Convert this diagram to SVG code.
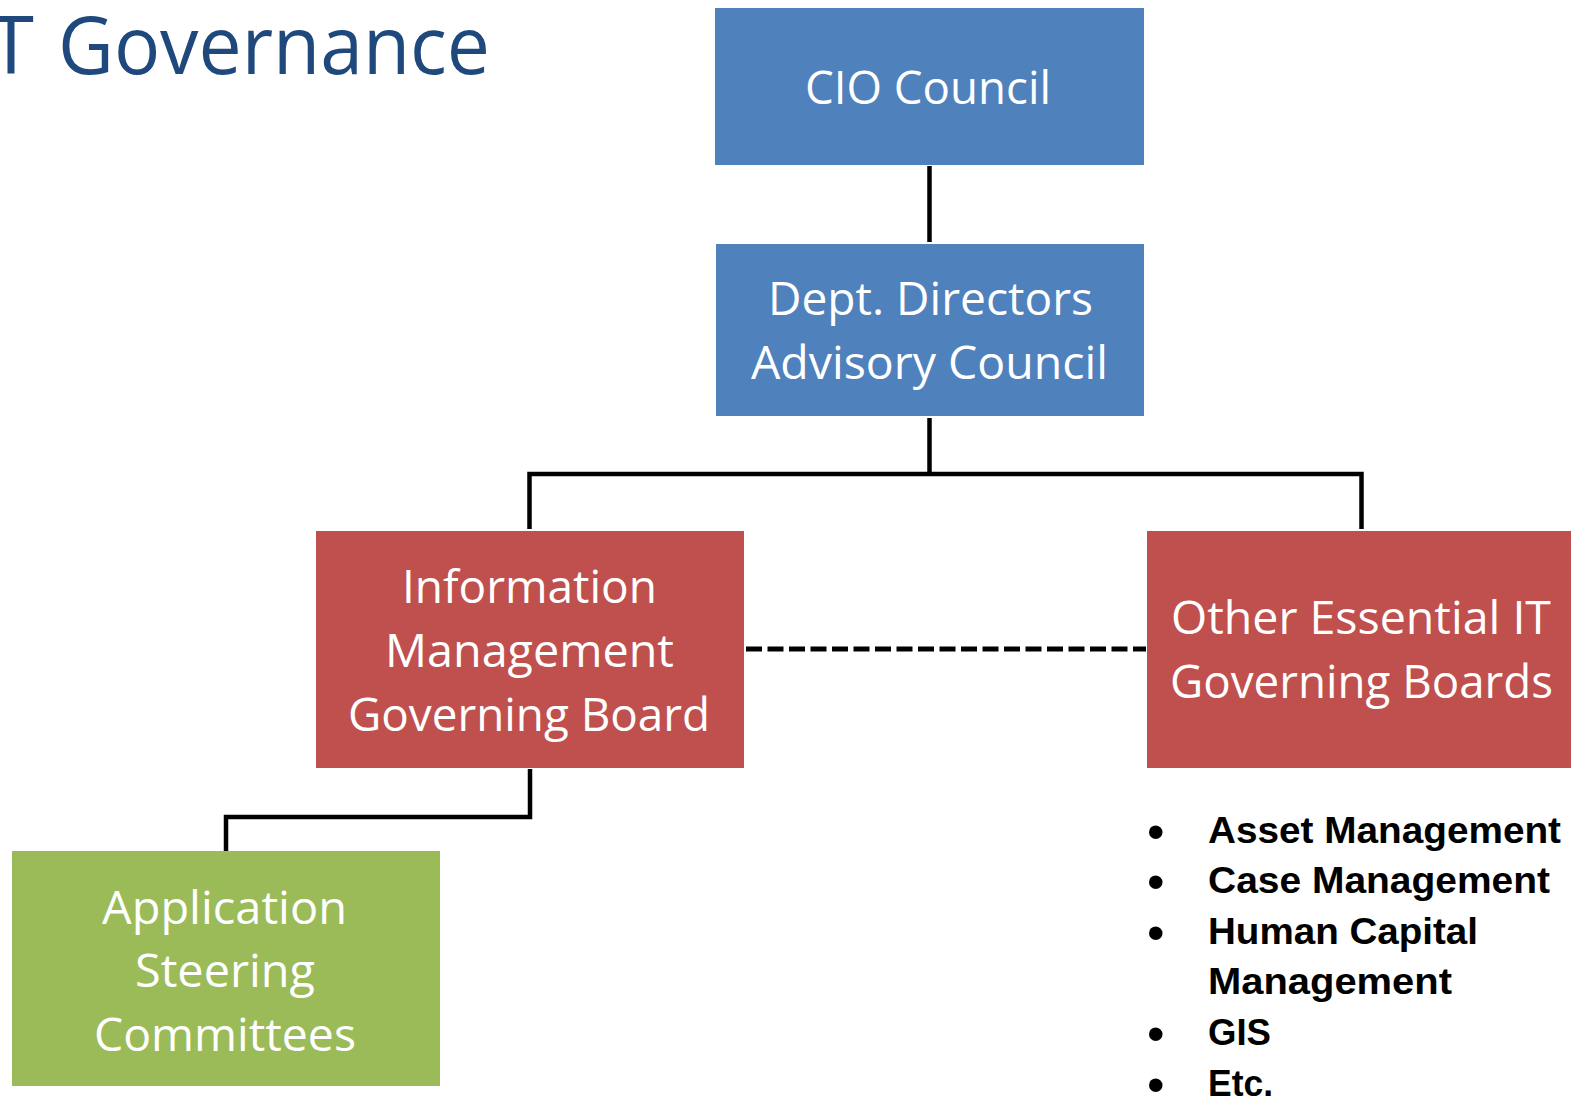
<svg xmlns="http://www.w3.org/2000/svg" width="1571" height="1101" viewBox="0 0 1571 1101">
  <style>
    .box-blue { fill: #4f81bd; }
    .box-red { fill: #c0504d; }
    .box-green { fill: #9bbb59; }
    .label { font-family: "Open Sans", "Noto Sans", sans-serif; font-size: 46px; fill: #ffffff; }
    .title { font-family: "Open Sans", "Noto Sans", sans-serif; font-size: 81px; fill: #1f497d; }
    .item { font-family: "Liberation Sans", Arial, sans-serif; font-weight: bold; font-size: 36px; fill: #000000; }
    .dot { font-family: "Liberation Sans", Arial, sans-serif; font-size: 50px; fill: #000000; }
    .link { fill: none; stroke: #000000; stroke-width: 4.5; stroke-linecap: butt; stroke-linejoin: miter; }
    .peer { fill: none; stroke: #000000; stroke-width: 5; stroke-dasharray: 16 5.5; }
  </style>

  <rect width="1571" height="1101" fill="#ffffff"/>

  <!-- heading -->
  <text class="title" y="74"><tspan x="-12" textLength="46" lengthAdjust="spacingAndGlyphs">T</tspan><tspan x="58" textLength="432" lengthAdjust="spacingAndGlyphs">Governance</tspan></text>

  <!-- connectors -->
  <g id="connectors">
    <path class="link" d="M929.5 166 V242"/>
    <path class="link" d="M929.5 418 V474"/>
    <path class="link" d="M529.5 529 V474 H1361.5 V529"/>
    <path class="link" d="M530 769 V817 H226 V864"/>
    <path class="peer" d="M746 649 H1146"/>
  </g>

  <g id="cio-council">
    <rect class="box-blue" x="715" y="8" width="429" height="157"/>
    <text class="label" x="805" y="104" textLength="246" lengthAdjust="spacingAndGlyphs">CIO Council</text>
  </g>

  <g id="dept-directors">
    <rect class="box-blue" x="716" y="244" width="428" height="172"/>
    <text class="label" x="768" y="315" textLength="325" lengthAdjust="spacingAndGlyphs">Dept. Directors</text>
    <text class="label" x="751" y="379" textLength="357" lengthAdjust="spacingAndGlyphs">Advisory Council</text>
  </g>

  <g id="info-mgmt-board">
    <rect class="box-red" x="316" y="531" width="428" height="237"/>
    <text class="label" x="402" y="603" textLength="255" lengthAdjust="spacingAndGlyphs">Information</text>
    <text class="label" x="385" y="667" textLength="289" lengthAdjust="spacingAndGlyphs">Management</text>
    <text class="label" x="348" y="731" textLength="362" lengthAdjust="spacingAndGlyphs">Governing Board</text>
  </g>

  <g id="other-it-boards">
    <rect class="box-red" x="1147" y="531" width="424" height="237"/>
    <text class="label" x="1171" y="634" textLength="380" lengthAdjust="spacingAndGlyphs">Other Essential IT</text>
    <text class="label" x="1170" y="698" textLength="383" lengthAdjust="spacingAndGlyphs">Governing Boards</text>
  </g>

  <g id="app-steering">
    <rect class="box-green" x="12" y="851" width="428" height="235"/>
    <text class="label" x="102" y="924" textLength="245" lengthAdjust="spacingAndGlyphs">Application</text>
    <text class="label" x="135" y="987" textLength="180" lengthAdjust="spacingAndGlyphs">Steering</text>
    <text class="label" x="94" y="1051" textLength="262" lengthAdjust="spacingAndGlyphs">Committees</text>
  </g>

  <!-- list of other governing boards -->
  <g id="board-list">
    <text class="dot" x="1147" y="849">•</text>
    <text class="item" x="1208" y="843" textLength="353" lengthAdjust="spacingAndGlyphs">Asset Management</text>
    <text class="dot" x="1147" y="899">•</text>
    <text class="item" x="1208" y="893" textLength="342" lengthAdjust="spacingAndGlyphs">Case Management</text>
    <text class="dot" x="1147" y="950">•</text>
    <text class="item" x="1208" y="944" textLength="270" lengthAdjust="spacingAndGlyphs">Human Capital</text>
    <text class="item" x="1208" y="994" textLength="244" lengthAdjust="spacingAndGlyphs">Management</text>
    <text class="dot" x="1147" y="1051">•</text>
    <text class="item" x="1208" y="1045" textLength="63" lengthAdjust="spacingAndGlyphs">GIS</text>
    <text class="dot" x="1147" y="1102">•</text>
    <text class="item" x="1208" y="1096" textLength="65" lengthAdjust="spacingAndGlyphs">Etc.</text>
  </g>
</svg>
